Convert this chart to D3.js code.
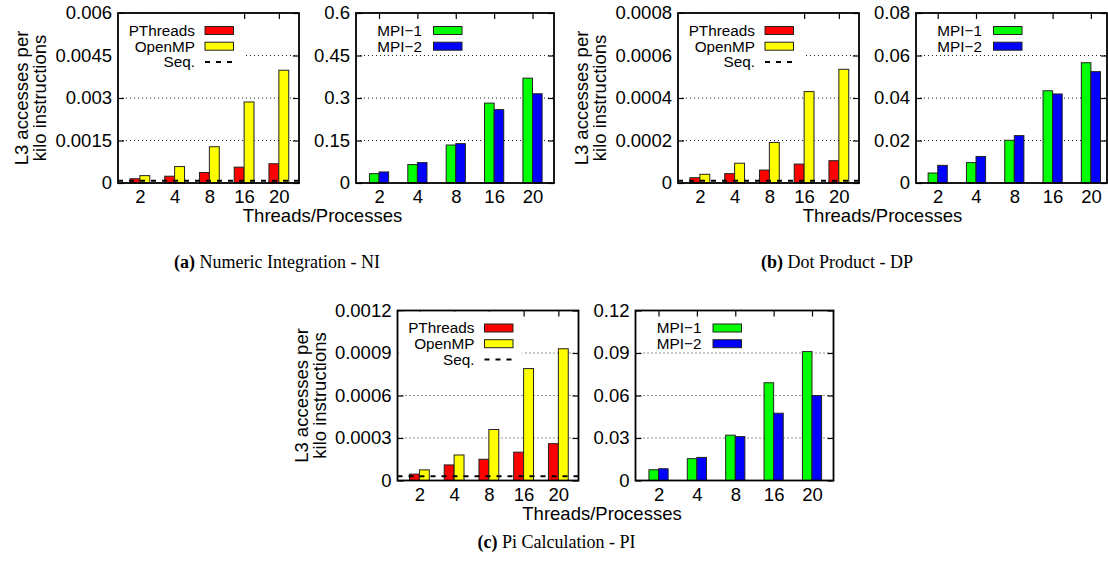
<!DOCTYPE html>
<html>
<head>
<meta charset="utf-8">
<script src="https://cdn.jsdelivr.net/npm/d3@7"></script>
<style>
  body { margin: 0; background: #fff; }
  svg { display: block; }
  text { font-family: "Liberation Sans", Arial, Helvetica, sans-serif; fill: #000; }
</style>
</head>
<body>
<svg id="chart" width="1108" height="567"></svg>
<script>
// categories
const threads = ['2', '4', '8', '16', '20'];

// (a) Numeric Integration
const niPThreads = [0.00015, 0.00024, 0.00037, 0.00056, 0.00068];
const niOpenMP = [0.00026, 0.00058, 0.00128, 0.00286, 0.00398];
const niSeq = 0.00008;
const niMPI1 = [0.033, 0.065, 0.134, 0.282, 0.37];
const niMPI2 = [0.039, 0.072, 0.139, 0.259, 0.315];
const niTicksShared = [0, 0.0015, 0.003, 0.0045, 0.006];
const niTicksMPI = [0, 0.15, 0.3, 0.45, 0.6];

// (b) Dot Product
const dpPThreads = [0.000025, 0.000044, 0.000061, 0.000089, 0.000105];
const dpOpenMP = [0.000041, 0.000093, 0.000191, 0.00043, 0.000535];
const dpSeq = 0.000011;
const dpMPI1 = [0.0047, 0.0096, 0.0201, 0.0434, 0.0566];
const dpMPI2 = [0.0083, 0.0125, 0.0223, 0.0419, 0.0524];
const dpTicksShared = [0, 0.0002, 0.0004, 0.0006, 0.0008];
const dpTicksMPI = [0, 0.02, 0.04, 0.06, 0.08];

// (c) Pi Calculation
const piPThreads = [0.000045, 0.00011, 0.00015, 0.0002, 0.00026];
const piOpenMP = [0.000075, 0.00018, 0.00036, 0.00079, 0.00093];
const piSeq = 0.00003;
const piMPI1 = [0.0076, 0.0154, 0.032, 0.069, 0.091];
const piMPI2 = [0.0083, 0.0163, 0.031, 0.0475, 0.06];
const piTicksShared = [0, 0.0003, 0.0006, 0.0009, 0.0012];
const piTicksMPI = [0, 0.03, 0.06, 0.09, 0.12];

const sharedNames = ['PThreads', 'OpenMP'];
const mpiNames = ['MPI\u22121', 'MPI\u22122'];
const sharedColors = ['#ff0000', '#ffff00'];
const mpiColors = ['#00ff00', '#0000ff'];

const svg = d3.select('#chart');

const plotTop = 13;
const plotH = 170;
const tickFont = 18.5;
const keyFont = 15.3;
const leftFrame = { x: 118, w: 181, dom: [-0.63, 4.58], bw: 0.285, keyText: 77, keyBox: 87 };
const rightFrame = { x: 356, w: 198, dom: [-0.6, 4.56], bw: 0.25, keyText: 66, keyBox: 77.5 };
// the dot product figure is cut narrower on the right
const rightFrameNarrow = { x: 356, w: 191, dom: [-0.567, 4.42], bw: 0.25, keyText: 66, keyBox: 77.5 };

const drawPlot = (g, frame, ticks, series, names, colors, seq) => {
  const x = d3.scaleLinear().domain(frame.dom).range([0, frame.w]);
  const y = d3.scaleLinear().domain([0, ticks[ticks.length - 1]]).range([plotH, 0]);

  const p = g.append('g').attr('transform', 'translate(' + frame.x + ',' + plotTop + ')');

  // grid
  p.selectAll('.grid')
    .data(ticks.slice(1, -1))
    .enter()
    .append('line')
    .attr('x1', 0)
    .attr('x2', frame.w)
    .attr('y1', d => y(d))
    .attr('y2', d => y(d))
    .attr('stroke', '#222')
    .attr('stroke-width', 1)
    .attr('stroke-dasharray', '1,3');

  const yl = p.append('g')
    .call(d3.axisLeft(y).tickValues(ticks).tickFormat(String).tickSize(-6).tickPadding(6));
  const yr = p.append('g')
    .attr('transform', 'translate(' + frame.w + ',0)')
    .call(d3.axisRight(y).tickValues(ticks).tickFormat('').tickSize(-6));
  const xt = p.append('g')
    .call(d3.axisTop(x).tickValues([0, 1, 2, 3, 4]).tickFormat('').tickSize(-6));
  const xb = p.append('g')
    .attr('transform', 'translate(0,' + plotH + ')')
    .call(d3.axisBottom(x).tickValues([0, 1, 2, 3, 4]).tickFormat(i => threads[i]).tickSize(-6).tickPadding(7));

  [yl, yr, xt, xb].forEach(a => {
    a.select('.domain').remove();
    a.selectAll('line').attr('stroke', '#000').attr('stroke-width', 1.2);
    a.selectAll('text').attr('font-size', tickFont).attr('fill', '#000')
      .style('font-family', '"Liberation Sans", Arial, Helvetica, sans-serif');
  });

  // bars
  series.forEach((vals, j) => {
    p.selectAll('.bar' + j)
      .data(vals)
      .enter()
      .append('rect')
      .attr('x', (d, i) => x(i - frame.bw + j * frame.bw))
      .attr('width', x(frame.bw) - x(0))
      .attr('y', d => y(d))
      .attr('height', d => plotH - y(d))
      .attr('fill', colors[j])
      .attr('stroke', '#222')
      .attr('stroke-width', 1);
  });

  if (seq !== null) {
    p.append('line')
      .attr('x1', 0)
      .attr('x2', frame.w)
      .attr('y1', y(seq))
      .attr('y2', y(seq))
      .attr('stroke', '#000')
      .attr('stroke-width', 2)
      .attr('stroke-dasharray', '5,6');
  }

  // key
  const rows = names.slice();
  if (seq !== null) {
    rows.push('Seq.');
    p.append('rect')
      .attr('x', 1)
      .attr('y', 1)
      .attr('width', 124)
      .attr('height', 55)
      .attr('fill', '#fff');
  }
  rows.forEach((name, k) => {
    const cy = 17.5 + k * 15.7;
    p.append('text')
      .attr('x', frame.keyText)
      .attr('y', cy)
      .attr('dy', '0.35em')
      .attr('text-anchor', 'end')
      .attr('font-size', keyFont)
      .text(name);
    if (k < names.length) {
      p.append('rect')
        .attr('x', frame.keyBox)
        .attr('y', cy - 4)
        .attr('width', 28.5)
        .attr('height', 8)
        .attr('fill', colors[k])
        .attr('stroke', '#222')
        .attr('stroke-width', 1);
    } else {
      p.append('line')
        .attr('x1', frame.keyBox)
        .attr('x2', frame.keyBox + 28.5)
        .attr('y1', cy)
        .attr('y2', cy)
        .attr('stroke', '#000')
        .attr('stroke-width', 2)
        .attr('stroke-dasharray', '5,6');
    }
  });

  // frame
  p.append('rect')
    .attr('width', frame.w)
    .attr('height', plotH)
    .attr('fill', 'none')
    .attr('stroke', '#000')
    .attr('stroke-width', 1.8);
};

const drawFigure = (ox, oy, letter, title, shared, sharedTicks, seq, mpi, mpiTicks, rFrame, capX, capY) => {
  const g = svg.append('g').attr('transform', 'translate(' + ox + ',' + oy + ')');

  drawPlot(g, leftFrame, sharedTicks, shared, sharedNames, sharedColors, seq);
  drawPlot(g, rFrame, mpiTicks, mpi, mpiNames, mpiColors, null);

  // y label
  const cy = plotTop + plotH / 2;
  const yl = g.append('text')
    .attr('transform', 'rotate(-90)')
    .attr('text-anchor', 'middle')
    .attr('font-size', tickFont);
  yl.append('tspan').attr('x', -cy).attr('y', leftFrame.x - 90).text('L3 accesses per');
  yl.append('tspan').attr('x', -cy).attr('y', leftFrame.x - 72).text('kilo instructions');

  g.append('text')
    .attr('x', leftFrame.x + 204.5)
    .attr('y', plotTop + plotH + 39)
    .attr('text-anchor', 'middle')
    .attr('font-size', tickFont)
    .text('Threads/Processes');

  const cap = svg.append('text')
    .attr('x', capX)
    .attr('y', capY)
    .attr('text-anchor', 'middle')
    .attr('font-size', 18)
    .style('font-family', '"Liberation Serif", "Times New Roman", Times, serif');
  cap.append('tspan').attr('font-weight', 'bold').text('(' + letter + ')');
  cap.append('tspan').text(' ' + title);
};

drawFigure(0, 0, 'a', 'Numeric Integration - NI',
  [niPThreads, niOpenMP], niTicksShared, niSeq, [niMPI1, niMPI2], niTicksMPI, rightFrame, 277, 268);
drawFigure(560, 0, 'b', 'Dot Product - DP',
  [dpPThreads, dpOpenMP], dpTicksShared, dpSeq, [dpMPI1, dpMPI2], dpTicksMPI, rightFrameNarrow, 837, 268);
drawFigure(279.5, 297.5, 'c', 'Pi Calculation - PI',
  [piPThreads, piOpenMP], piTicksShared, piSeq, [piMPI1, piMPI2], piTicksMPI, rightFrame, 556.5, 547.5);
</script>
</body>
</html>
